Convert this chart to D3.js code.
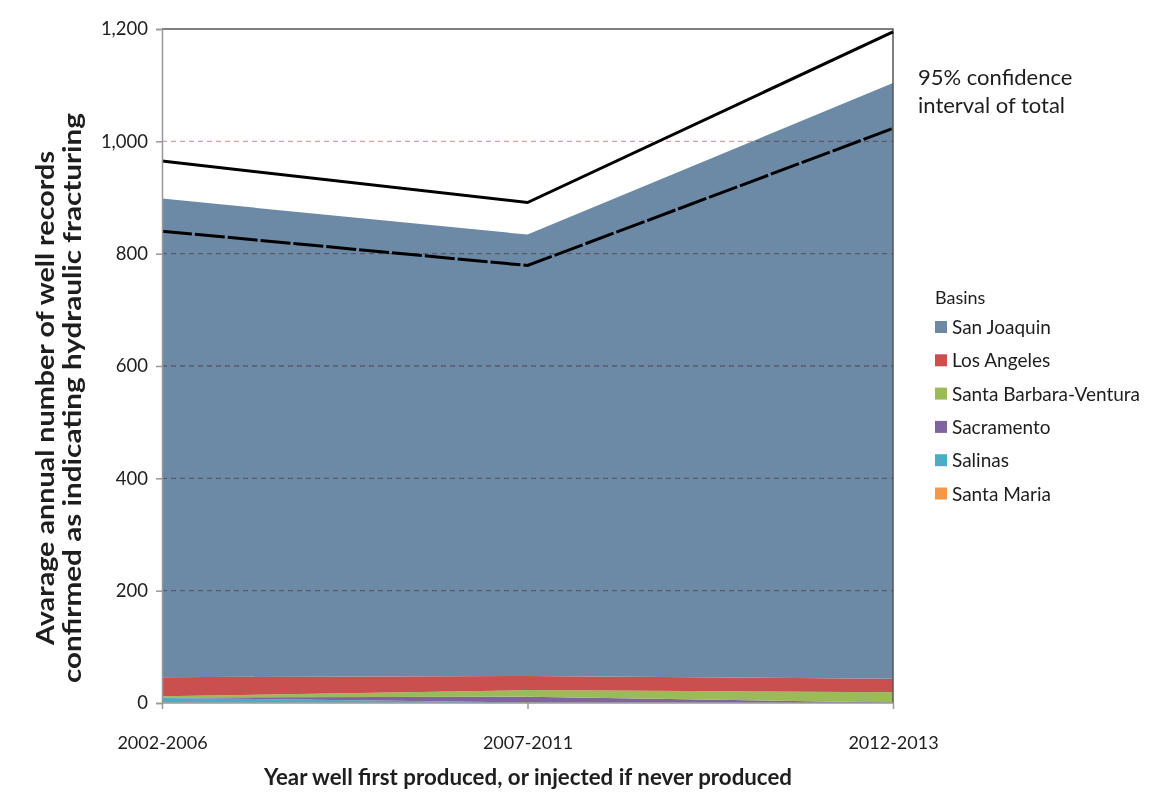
<!DOCTYPE html>
<html>
<head>
<meta charset="utf-8">
<script src="https://cdn.jsdelivr.net/npm/d3@7"></script>
<style>
  body { margin: 0; background: #fff; }
  svg text { font-family: Lato, "Open Sans", sans-serif; fill: #1e1e1e; }
</style>
</head>
<body>
<div id="chart"></div>
<script>
const periods = ["2002-2006", "2007-2011", "2012-2013"];

// stacked from the bottom up
const basins = ["Santa Maria", "Salinas", "Sacramento", "Santa Barbara-Ventura", "Los Angeles", "San Joaquin"];
const santaMaria = [1, 0, 0];
const salinas = [8, 1, 0];
const sacramento = [1, 10, 1];
const santaBarbaraVentura = [2, 12, 18];
const losAngeles = [34, 25, 24];
const sanJoaquin = [852, 786, 1061];

const ciUpper = [965, 891, 1195];
const ciLower = [840, 779, 1023];

const legendOrder = ["San Joaquin", "Los Angeles", "Santa Barbara-Ventura", "Sacramento", "Salinas", "Santa Maria"];
const yTicks = [0, 200, 400, 600, 800, 1000, 1200];

const colors = {
  "San Joaquin": "#6c89a6",
  "Los Angeles": "#c9504f",
  "Santa Barbara-Ventura": "#9bbb59",
  "Sacramento": "#8064a2",
  "Salinas": "#4bacc6",
  "Santa Maria": "#f79646"
};

const seriesValues = {
  "Santa Maria": santaMaria,
  "Salinas": salinas,
  "Sacramento": sacramento,
  "Santa Barbara-Ventura": santaBarbaraVentura,
  "Los Angeles": losAngeles,
  "San Joaquin": sanJoaquin
};

const rows = periods.map((p, i) => {
  const r = { period: p };
  basins.forEach((b) => { r[b] = seriesValues[b][i]; });
  return r;
});

const W = 1176, H = 804;
const plot = { left: 162, right: 893, top: 29, bottom: 703 };

const svg = d3.select("#chart").append("svg").attr("width", W).attr("height", H);

const x = d3.scalePoint().domain(periods).range([plot.left, plot.right]);
const y = d3.scaleLinear().domain([0, 1200]).range([plot.bottom, plot.top]);

const stacked = d3.stack().keys(basins)(rows);

const area = d3.area()
  .x((d) => x(d.data.period))
  .y0((d) => y(d[0]))
  .y1((d) => y(d[1]));

svg.append("g")
  .selectAll("path")
  .data(stacked)
  .enter()
  .append("path")
  .attr("d", area)
  .attr("fill", (d) => colors[d.key]);

// gridlines on top of the areas, multiplied so they darken the blue
svg.append("g")
  .style("mix-blend-mode", "multiply")
  .selectAll("line")
  .data(yTicks.filter((t) => t > 0 && t < 1200))
  .enter()
  .append("line")
  .attr("x1", plot.left)
  .attr("x2", plot.right)
  .attr("y1", (d) => y(d))
  .attr("y2", (d) => y(d))
  .attr("stroke", "#d2a2a6")
  .attr("stroke-width", 1.4)
  .attr("stroke-dasharray", "5,4");

// plot frame (top and right)
svg.append("path")
  .attr("d", `M${plot.left},${y(1200)}H${plot.right}V${plot.bottom}`)
  .attr("fill", "none")
  .attr("stroke", "#555")
  .attr("stroke-width", 1.5);

// confidence interval lines
const line = d3.line()
  .x((d, i) => x(periods[i]))
  .y((d) => y(d));

svg.append("path")
  .attr("d", line(ciUpper))
  .attr("fill", "none")
  .attr("stroke", "#000")
  .attr("stroke-width", 3);

svg.append("path")
  .attr("d", line(ciLower))
  .attr("fill", "none")
  .attr("stroke", "#000")
  .attr("stroke-width", 3)
  .attr("stroke-dasharray", "30,3");

// axes
const yAxis = d3.axisLeft(y)
  .tickValues(yTicks)
  .tickSize(6)
  .tickPadding(6)
  .tickFormat(d3.format(","));

const gy = svg.append("g").attr("transform", `translate(${plot.left},0)`).call(yAxis);
gy.select(".domain").attr("stroke", "#999").attr("stroke-width", 1.5);
gy.selectAll(".tick line").attr("stroke", "#999").attr("stroke-width", 1.5);
gy.selectAll("text").attr("font-size", 18.5).attr("dx", -2).attr("fill", "#222");

const xAxis = d3.axisBottom(x).tickSize(6).tickPadding(27);
const gx = svg.append("g").attr("transform", `translate(0,${plot.bottom})`).call(xAxis);
gx.select(".domain").remove();
gx.selectAll(".tick line").attr("stroke", "#999").attr("stroke-width", 1.5);
gx.selectAll("text").attr("font-size", 18).attr("fill", "#222");

svg.append("line")
  .attr("x1", plot.left).attr("x2", plot.right)
  .attr("y1", plot.bottom).attr("y2", plot.bottom)
  .attr("stroke", "#999").attr("stroke-width", 1.5);

// axis titles
svg.append("text")
  .attr("x", 528)
  .attr("y", 785)
  .attr("text-anchor", "middle")
  .attr("font-size", 22)
  .attr("font-weight", 700)
  .attr("textLength", 528)
  .attr("lengthAdjust", "spacingAndGlyphs")
  .text("Year well first produced, or injected if never produced");

const yTitle = svg.append("text")
  .attr("transform", "translate(0,398) rotate(-90)")
  .attr("text-anchor", "middle")
  .attr("font-size", 25)
  .attr("font-weight", 700);
yTitle.append("tspan").attr("x", 0).attr("y", 54)
  .attr("textLength", 494).attr("lengthAdjust", "spacingAndGlyphs")
  .text("Avarage annual number of well records");
yTitle.append("tspan").attr("x", 0).attr("y", 81)
  .attr("textLength", 570).attr("lengthAdjust", "spacingAndGlyphs")
  .text("confirmed as indicating hydraulic fracturing");

// annotation
const note = svg.append("text").attr("font-size", 22);
note.append("tspan").attr("x", 918).attr("y", 85).text("95% confidence");
note.append("tspan").attr("x", 918).attr("y", 113).text("interval of total");

// legend
const legend = svg.append("g").attr("transform", "translate(935,0)");
legend.append("text").attr("x", 0).attr("y", 304).attr("font-size", 18).text("Basins");
const item = legend.selectAll(".item")
  .data(legendOrder)
  .enter()
  .append("g")
  .attr("class", "item")
  .attr("transform", (d, i) => `translate(0,${327 + i * 33.3})`);
item.append("rect")
  .attr("x", 0).attr("y", -6)
  .attr("width", 12).attr("height", 12)
  .attr("fill", (d) => colors[d]);
item.append("text")
  .attr("x", 17).attr("y", 7)
  .attr("font-size", 19)
  .text((d) => d);
</script>
</body>
</html>
